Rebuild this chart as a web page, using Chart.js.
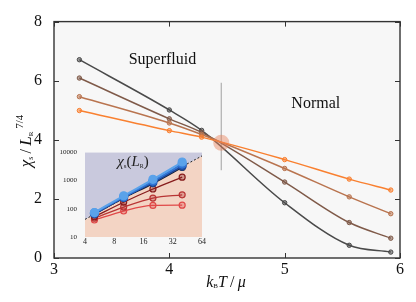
<!DOCTYPE html>
<html>
<head>
<meta charset="utf-8">
<script src="https://cdn.jsdelivr.net/npm/chart.js@4.4.1/dist/chart.umd.min.js"></script>
<style>
  body { margin: 0; background: #fff; }
  #wrap { position: relative; width: 416px; height: 302px; }
  #main { position: absolute; left: 0; top: 0; }
  #inset { position: absolute; left: 40px; top: 140px; }
</style>
</head>
<body>
<div id="wrap">
  <canvas id="main" width="416" height="302"></canvas>
  <canvas id="inset" width="170" height="125"></canvas>
</div>
<script>
// main panel: chi_s / L^(7/4) vs kT/mu, one curve per system size
var temps = [3.22, 4.0, 4.28, 5.0, 5.56, 5.92];
var chiGray = [6.71, 5.01, 4.32, 1.87, 0.43, 0.2];
var chiBrown = [6.09, 4.71, 4.25, 2.57, 1.2, 0.67];
var chiTan = [5.46, 4.57, 4.18, 3.03, 2.07, 1.5];
var chiOrange = [4.99, 4.31, 4.09, 3.33, 2.67, 2.3];
var xTicks = [3, 4, 5, 6];
var yTicks = [0, 2, 4, 6, 8];
var critT = 4.45;
var critChi = 3.9;
var critBar = [2.97, 5.93];

// inset: chi_s(L) on log-log axes
var sizes = [5, 10, 20, 40];
var insLightBlue = [73, 287, 1095, 4500];
var insBlue = [71, 262, 955, 3800];
var insDarkBlue = [66, 251, 850, 3240];
var insBlack = [65, 238, 775, 2880];
var insDarkRed = [52, 170, 500, 1310];
var insRed = [46, 114, 238, 310];
var insLightRed = [40, 83, 131, 134];
var dashL = [4, 64];
var dashChi = [42, 7400];
var insXTicks = [4, 8, 16, 32, 64];
var insYTicks = [10, 100, 1000, 10000];

var SERIF = '"Liberation Serif", "DejaVu Serif", serif';

function pts(xs, ys) {
  return xs.map(function (x, i) { return { x: x, y: ys[i] }; });
}

// draws a run of text pieces (for sub/superscripts), centred on x
function drawParts(ctx, parts, x, y) {
  var total = 0;
  parts.forEach(function (p) { ctx.font = p.font; total += ctx.measureText(p.t).width; });
  var cx = x - total / 2;
  parts.forEach(function (p) {
    ctx.font = p.font;
    ctx.fillText(p.t, cx, y + (p.dy || 0));
    cx += ctx.measureText(p.t).width;
  });
}

function curve(data, color, order) {
  return {
    data: data,
    borderColor: color,
    borderWidth: 1.5,
    pointRadius: 2.2,
    pointBorderWidth: 1,
    pointBorderColor: color,
    pointBackgroundColor: color + '88',
    cubicInterpolationMode: 'monotone',
    order: order
  };
}

var framePlugin = {
  id: 'frame',
  beforeDraw: function (chart) {
    var a = chart.chartArea, ctx = chart.ctx;
    ctx.save();
    ctx.fillStyle = '#f7f7f7';
    ctx.fillRect(a.left, a.top, a.right - a.left, a.bottom - a.top);
    ctx.restore();
  },
  afterDraw: function (chart) {
    var a = chart.chartArea, ctx = chart.ctx;
    var sx = chart.scales.x, sy = chart.scales.y;
    ctx.save();
    ctx.strokeStyle = '#333';
    ctx.lineWidth = 1.4;
    ctx.strokeRect(a.left, a.top, a.right - a.left, a.bottom - a.top);
    ctx.lineWidth = 1;
    ctx.beginPath();
    xTicks.forEach(function (v) {
      var px = Math.round(sx.getPixelForValue(v)) + 0.5;
      ctx.moveTo(px, a.bottom); ctx.lineTo(px, a.bottom - 5);
      ctx.moveTo(px, a.top); ctx.lineTo(px, a.top + 5);
    });
    yTicks.forEach(function (v) {
      var py = Math.round(sy.getPixelForValue(v)) + 0.5;
      ctx.moveTo(a.left, py); ctx.lineTo(a.left + 5, py);
      ctx.moveTo(a.right, py); ctx.lineTo(a.right - 5, py);
    });
    ctx.stroke();

    ctx.fillStyle = '#111';
    ctx.textBaseline = 'alphabetic';
    ctx.textAlign = 'left';
    drawParts(ctx, [{ t: 'Superfluid', font: '16px ' + SERIF }],
      sx.getPixelForValue(3.94), sy.getPixelForValue(6.55));
    drawParts(ctx, [{ t: 'Normal', font: '16px ' + SERIF }],
      sx.getPixelForValue(5.27), sy.getPixelForValue(5.08));

    // x title
    var it = 'italic 16px ' + SERIF;
    drawParts(ctx, [
      { t: 'k', font: it },
      { t: 'B', font: '7px ' + SERIF, dy: 1 },
      { t: 'T', font: it },
      { t: '\u2009/\u2009', font: '16px ' + SERIF },
      { t: 'μ', font: it }
    ], 226, 287);

    // y title, rotated
    ctx.translate(25, 141);
    ctx.rotate(-Math.PI / 2);
    drawParts(ctx, [
      { t: 'χ', font: 'italic 17px ' + SERIF },
      { t: 's', font: '8px ' + SERIF, dy: 2 },
      { t: '\u2009/\u2009', font: '16px ' + SERIF },
      { t: 'L', font: 'italic 17px ' + SERIF },
      { t: 'R', font: '7px ' + SERIF, dy: 2 },
      { t: ' 7/4', font: '11px ' + SERIF, dy: -8 }
    ], 0, 6);
    ctx.restore();
  }
};

new Chart(document.getElementById('main'), {
  type: 'line',
  data: {
    datasets: [
      {
        data: [{ x: critT, y: critChi }],
        pointRadius: 8,
        pointBorderWidth: 0,
        pointBackgroundColor: 'rgba(232,128,88,0.45)',
        showLine: false,
        order: 0
      },
      curve(pts(temps, chiOrange), '#f98030', 1),
      curve(pts(temps, chiTan), '#b9744f', 2),
      curve(pts(temps, chiBrown), '#7f5a49', 3),
      curve(pts(temps, chiGray), '#4a4a4a', 4),
      {
        data: [{ x: critT, y: critBar[0] }, { x: critT, y: critBar[1] }],
        borderColor: '#a0a0a0',
        borderWidth: 1,
        pointRadius: 0,
        order: 5
      }
    ]
  },
  options: {
    responsive: false,
    animation: false,
    events: [],
    layout: { padding: { top: 18, right: 16, left: 0, bottom: 0 } },
    plugins: { legend: { display: false }, tooltip: { enabled: false } },
    scales: {
      x: {
        type: 'linear', min: 3, max: 6,
        afterBuildTicks: function (s) { s.ticks = xTicks.map(function (v) { return { value: v }; }); },
        afterFit: function (s) { s.height = 44; },
        grid: { display: false, drawTicks: false },
        border: { display: false },
        ticks: { font: { family: SERIF, size: 16 }, color: '#111', padding: 2, maxRotation: 0 }
      },
      y: {
        type: 'linear', min: 0, max: 8,
        afterBuildTicks: function (s) { s.ticks = yTicks.map(function (v) { return { value: v }; }); },
        afterFit: function (s) { s.width = 54; },
        grid: { display: false, drawTicks: false },
        border: { display: false },
        ticks: { font: { family: SERIF, size: 16 }, color: '#111', padding: 12 }
      }
    }
  },
  plugins: [framePlugin]
});

// ---- inset ----
function insetSeries(ys, color, big, order) {
  return {
    data: pts(sizes, ys),
    borderColor: color,
    borderWidth: big ? 2 : 1.3,
    pointRadius: big ? 4 : 3,
    pointBorderWidth: 1.2,
    pointBorderColor: color,
    pointBackgroundColor: big ? color : color + '55',
    cubicInterpolationMode: 'monotone',
    order: order
  };
}

var insetLabel = {
  id: 'insetLabel',
  afterDraw: function (chart) {
    var ctx = chart.ctx;
    ctx.save();
    ctx.fillStyle = '#222';
    ctx.textBaseline = 'alphabetic';
    drawParts(ctx, [
      { t: 'χ', font: 'italic 15px ' + SERIF },
      { t: 's', font: '7px ' + SERIF, dy: 2 },
      { t: '(', font: '15px ' + SERIF },
      { t: 'L', font: 'italic 15px ' + SERIF },
      { t: 'R', font: '6px ' + SERIF, dy: 2 },
      { t: ')', font: '15px ' + SERIF }
    ], 93, 26);
    ctx.restore();
  }
};

new Chart(document.getElementById('inset'), {
  type: 'line',
  data: {
    datasets: [
      {
        data: pts(dashL, dashChi),
        borderWidth: 0,
        pointRadius: 0,
        fill: 'start',
        backgroundColor: 'rgb(243,212,196)',
        order: 21
      },
      {
        data: pts(dashL, dashChi),
        borderColor: '#222',
        borderWidth: 1,
        borderDash: [2, 2],
        pointRadius: 0,
        fill: 'end',
        backgroundColor: 'rgb(201,201,221)',
        order: 20
      },
      insetSeries(insLightRed, '#e04848', false, 7),
      insetSeries(insRed, '#b83434', false, 6),
      insetSeries(insDarkRed, '#871c1c', false, 5),
      insetSeries(insBlack, '#111a2e', false, 4),
      insetSeries(insDarkBlue, '#1f4a9c', true, 3),
      insetSeries(insBlue, '#3076d6', true, 2),
      insetSeries(insLightBlue, '#5aa2ea', true, 1)
    ]
  },
  options: {
    responsive: false,
    animation: false,
    events: [],
    layout: { padding: { top: 9, right: 8, left: 0, bottom: 0 } },
    plugins: { legend: { display: false }, tooltip: { enabled: false } },
    scales: {
      x: {
        type: 'logarithmic', min: 4, max: 64,
        afterBuildTicks: function (s) { s.ticks = insXTicks.map(function (v) { return { value: v }; }); },
        afterFit: function (s) { s.height = 28; },
        grid: { display: false, drawTicks: false },
        border: { display: false },
        ticks: { font: { family: SERIF, size: 8 }, color: '#222', padding: 0, maxRotation: 0, autoSkip: false,
          callback: function (v) { return String(v); } }
      },
      y: {
        type: 'logarithmic', min: 10, max: 10000,
        afterBuildTicks: function (s) { s.ticks = insYTicks.map(function (v) { return { value: v }; }); },
        afterFit: function (s) { s.width = 45; },
        grid: { display: false, drawTicks: false },
        border: { display: false },
        ticks: { font: { family: SERIF, size: 7 }, color: '#222', padding: 8, autoSkip: false,
          callback: function (v) { return String(v); } }
      }
    }
  },
  plugins: [insetLabel]
});
</script>
</body>
</html>
